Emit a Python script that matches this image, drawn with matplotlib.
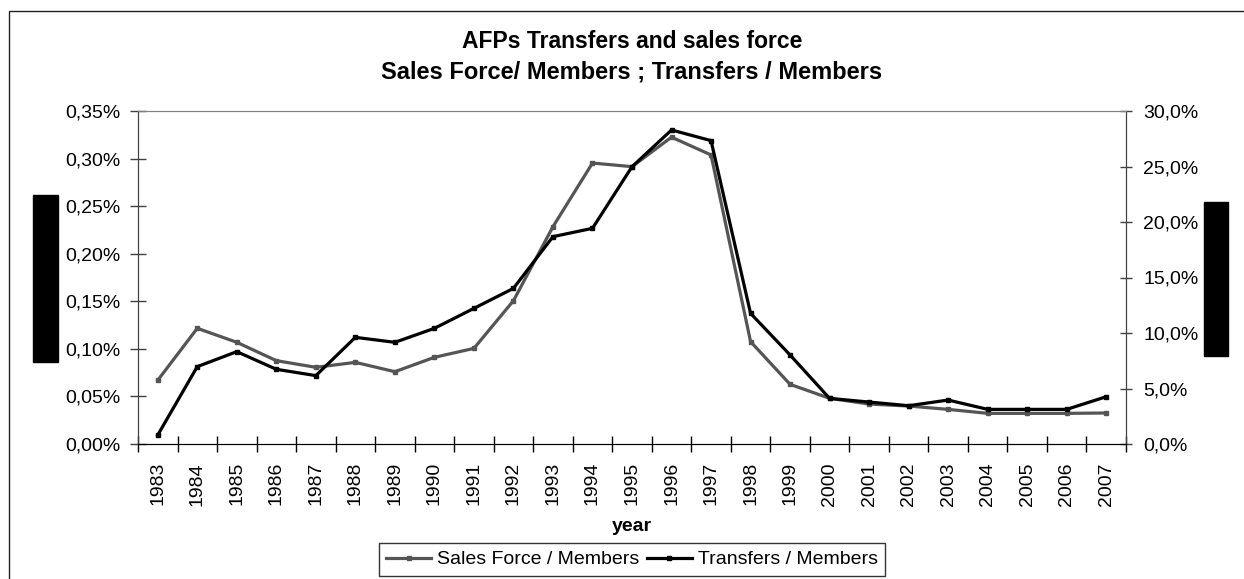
import matplotlib
matplotlib.use("Agg")
import matplotlib.pyplot as plt
from matplotlib.patches import Rectangle
from matplotlib.ticker import FuncFormatter, MultipleLocator

plt.rcParams['font.family'] = ['Liberation Sans', 'DejaVu Sans']

years = [str(y) for y in range(1983, 2008)]
sales_force = [0.067, 0.1216, 0.1069, 0.0876, 0.0806, 0.0858, 0.0760, 0.0911,
               0.1005, 0.1506, 0.2284, 0.2953, 0.2915, 0.3225, 0.3038, 0.1076,
               0.0627, 0.0480, 0.0420, 0.0399, 0.0364, 0.0322, 0.0322, 0.0322,
               0.0326]
transfers = [0.81, 6.97, 8.32, 6.73, 6.16, 9.61, 9.16, 10.42, 12.22, 14.02,
             18.68, 19.43, 24.98, 28.29, 27.33, 11.77, 8.02, 4.11, 3.78, 3.45,
             3.96, 3.12, 3.12, 3.12, 4.26]
title_lines = ["AFPs Transfers and sales force",
               "Sales Force/ Members ; Transfers / Members"]
label_sales = "Sales Force / Members"
label_transfers = "Transfers / Members"

W, H = 1244, 579
fig = plt.figure(figsize=(W / 100, H / 100), dpi=100)

# outer border
fig.patches.append(Rectangle((9 / W, 0 - 0.1), 1.2, (H - 11) / H + 0.1,
                             transform=fig.transFigure, fill=False,
                             edgecolor='#222222', linewidth=1.0))

ax = fig.add_axes([138 / W, 1 - 444 / H, (1126 - 138) / W, (444 - 111) / H])
ax2 = ax.twinx()

x = list(range(len(years)))
gray = '#555555'
l1, = ax.plot(x, sales_force, color=gray, lw=2.3, marker='s', ms=3,
              label=label_sales, zorder=3)
l2, = ax2.plot(x, transfers, color='black', lw=2.3, marker='s', ms=3,
               label=label_transfers, zorder=4)

ax.set_xlim(-0.5, len(years) - 0.5)
ax.set_ylim(0, 0.35)
ax2.set_ylim(0, 30)
ax.yaxis.set_major_locator(MultipleLocator(0.05))
ax2.yaxis.set_major_locator(MultipleLocator(5))
ax.yaxis.set_major_formatter(FuncFormatter(lambda v, p: f"{v:.2f}%".replace('.', ',')))
ax2.yaxis.set_major_formatter(FuncFormatter(lambda v, p: f"{v:.1f}%".replace('.', ',')))

ax.set_xticks([i - 0.5 for i in range(len(years) + 1)])
ax.set_xticklabels([])
ax.set_xticks(x, minor=True)
ax.set_xticklabels(years, minor=True, rotation=90, fontsize=14)
ax.tick_params(axis='x', which='minor', length=0, pad=13)
ax.tick_params(axis='x', which='major', direction='inout', length=11, width=1, color='black')
ax.tick_params(axis='y', direction='inout', length=11, width=1, labelsize=14, pad=7,
               color='#404040')
ax2.tick_params(axis='y', direction='inout', length=9, width=1, labelsize=14, pad=8,
                color='#404040')

for a in (ax, ax2):
    a.spines['top'].set_color('#808080')
    a.spines['left'].set_color('#404040')
    a.spines['right'].set_color('#404040')
    a.spines['bottom'].set_color('black')
    a.patch.set_visible(False)

ax.set_xlabel("year", fontsize=14, fontweight='bold', labelpad=9)

cx = (138 + 1126) / 2 / W
fig.text(cx, 1 - 41.7 / H, title_lines[0], ha='center', va='center',
         fontsize=16.5, fontweight='bold')
fig.text(cx, 1 - 71.7 / H, title_lines[1], ha='center', va='center',
         fontsize=17, fontweight='bold')

# black blocks (redacted axis titles)
fig.patches.append(Rectangle((33 / W, 1 - 362 / H), 25 / W, (362 - 195) / H,
                             transform=fig.transFigure, color='black'))
fig.patches.append(Rectangle((1204 / W, 1 - 356 / H), 24 / W, (356 - 202) / H,
                             transform=fig.transFigure, color='black'))

leg = fig.legend(handles=[l1, l2], loc='center', ncol=2,
                 bbox_to_anchor=(cx, 1 - 559.5 / H), fontsize=14,
                 frameon=True, fancybox=False, edgecolor='black',
                 handlelength=2.3, handletextpad=0.3, columnspacing=0.4,
                 borderpad=0.4, markerscale=1.0)
leg.get_frame().set_linewidth(1.0)

fig.savefig("out.png", dpi=100)
